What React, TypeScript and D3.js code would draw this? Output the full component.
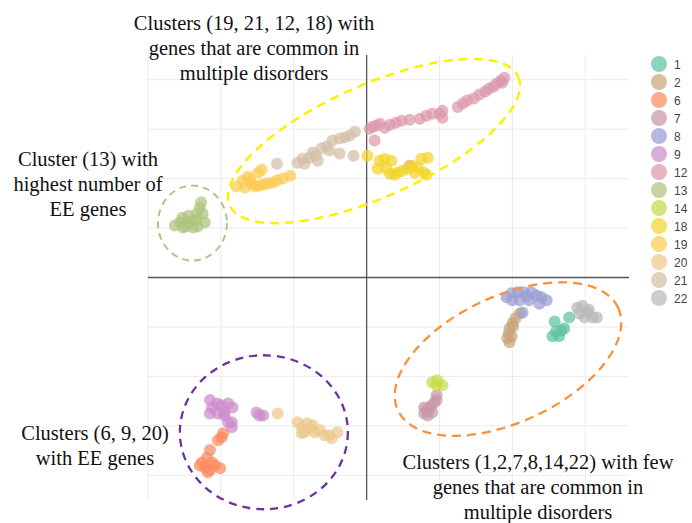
import * as d3 from "d3";
import { useEffect, useRef } from "react";

// cluster ids and colours (legend order)
const clusterIds = ["1", "2", "6", "7", "8", "9", "12", "13", "14", "18", "19", "20", "21", "22"];
const clusterColors = [
  "#5ec4a0", "#c9a47a", "#fb8a60", "#c898a8", "#9a9ed2", "#cc8ccc", "#dc98aa",
  "#b0c480", "#c4dc48", "#f2d42a", "#fbcc52", "#edc88e", "#d4bfa6", "#b8b8b8",
];

// point coordinates per cluster [x, y]
const c1 = [[2.58, -0.89], [2.78, -0.81], [2.6, -1.09], [2.67, -1.07], [2.71, -1.03], [2.55, -1.19], [2.64, -1.19]];
const c2 = [[2.1, -0.73], [2.04, -0.83], [2.0, -0.93], [1.96, -1.03], [1.95, -1.13], [1.93, -1.23], [1.96, -1.31], [1.99, -1.19], [2.01, -0.99]];
const c6 = [[-1.97, -3.15], [-2.04, -3.29], [-2.15, -3.49], [-2.19, -3.64], [-2.26, -3.74], [-2.22, -3.84], [-2.15, -3.9], [-2.08, -3.8], [-2.01, -3.86], [-2.12, -3.74], [-2.18, -3.94], [-2.29, -3.8], [-1.99, -3.23]];
const c7 = [[0.96, -2.38], [0.93, -2.53], [0.89, -2.59], [0.86, -2.65], [0.82, -2.69], [0.79, -2.63], [0.79, -2.75], [0.84, -2.79], [0.9, -2.73], [0.96, -2.48]];
const c8 = [[1.92, -0.4], [1.99, -0.32], [2.07, -0.3], [2.16, -0.3], [2.26, -0.3], [2.33, -0.36], [2.4, -0.4], [2.47, -0.46], [2.1, -0.46], [2.23, -0.46], [2.37, -0.53], [2.14, -0.71], [2.0, -0.46], [2.19, -0.38]];
const c9 = [[-2.15, -2.48], [-2.12, -2.63], [-2.15, -2.75], [-2.05, -2.55], [-1.99, -2.59], [-1.9, -2.55], [-1.84, -2.63], [-2.04, -2.75], [-1.95, -2.79], [-1.9, -2.93], [-1.85, -3.03], [-1.95, -2.73], [-1.51, -2.73], [-1.47, -2.79], [-1.42, -2.79], [-1.85, -2.93]];
const c12 = [[0.04, 3.01], [0.11, 2.77], [0.18, 3.11], [0.25, 3.03], [0.32, 3.09], [0.4, 3.13], [0.48, 3.17], [0.59, 3.19], [0.73, 3.21], [0.82, 3.27], [0.9, 3.31], [1.0, 3.31], [1.04, 3.37], [1.04, 3.23], [1.25, 3.45], [1.32, 3.52], [1.38, 3.58], [1.47, 3.62], [1.55, 3.7], [1.63, 3.76], [1.68, 3.82], [1.74, 3.86], [1.78, 3.92], [1.84, 3.98], [1.89, 4.04], [0.08, 3.05], [0.59, 2.26], [0.13, 3.07], [1.86, 3.94]];
const c13 = [[-2.63, 1.05], [-2.56, 1.11], [-2.52, 1.01], [-2.45, 1.11], [-2.53, 1.21], [-2.44, 1.25], [-2.38, 1.15], [-2.33, 1.29], [-2.29, 1.41], [-2.27, 1.52], [-2.25, 1.29], [-2.22, 1.11], [-2.32, 1.03], [-2.38, 1.01], [-2.48, 1.03], [-2.34, 1.17]];
const c14 = [[0.9, -2.12], [0.97, -2.08], [1.04, -2.18], [0.96, -2.18]];
const c18 = [[0.01, 2.46], [0.18, 2.36], [0.25, 2.4], [0.34, 2.36], [0.15, 2.2], [0.27, 2.2], [0.32, 2.1], [0.42, 2.12], [0.49, 2.16], [0.63, 2.26], [0.7, 2.22], [0.75, 2.4], [0.84, 2.42], [0.66, 2.12], [0.79, 2.12], [0.82, 2.08], [0.38, 2.08], [0.56, 2.2]];
const c19 = [[-1.79, 1.84], [-1.7, 1.96], [-1.63, 2.04], [-1.58, 1.9], [-1.49, 2.12], [-1.44, 2.18], [-1.47, 1.86], [-1.36, 1.9], [-1.29, 1.92], [-1.23, 1.96], [-1.15, 2.0], [-1.05, 2.06], [-1.67, 1.82], [-1.53, 1.84], [-1.6, 1.98], [-1.41, 1.88]];
const c20 = [[-1.22, -2.75], [-0.95, -2.93], [-0.89, -3.03], [-0.82, -2.95], [-0.78, -3.05], [-0.85, -3.13], [-0.71, -3.13], [-0.64, -3.09], [-0.58, -3.19], [-0.51, -3.19], [-0.48, -3.25], [-0.4, -3.13], [-0.74, -2.99], [-0.89, -3.15]];
const c21 = [[-1.23, 2.3], [-0.95, 2.32], [-0.88, 2.4], [-0.79, 2.42], [-0.74, 2.53], [-0.7, 2.46], [-0.62, 2.61], [-0.55, 2.65], [-0.51, 2.57], [-0.47, 2.77], [-0.37, 2.81], [-0.3, 2.83], [-0.23, 2.87], [-0.16, 2.95], [-0.37, 2.51], [-0.18, 2.46], [-0.85, 2.3], [-0.67, 2.36]];
const c22 = [[2.89, -0.61], [2.96, -0.57], [2.92, -0.73], [3.03, -0.71], [3.1, -0.81], [3.16, -0.81], [2.99, -0.81], [3.05, -0.65]];
const clusterPoints = [c1, c2, c6, c7, c8, c9, c12, c13, c14, c18, c19, c20, c21, c22];

const xTicks = [-3, -2, -1, 0, 1, 2, 3];
const yTicks = [-4, -3, -2, -1, 0, 1, 2, 3, 4];

// annotation texts
const topNote = ["Clusters (19, 21, 12, 18) with", "genes that are common in", "multiple disorders"];
const leftNote = ["Cluster (13) with", "highest number of", "EE genes"];
const bottomLeftNote = ["Clusters (6, 9, 20)", "with EE genes"];
const bottomRightNote = ["Clusters (1,2,7,8,14,22) with few", "genes that are common in", "multiple disorders"];

export default function App() {
  const ref = useRef<SVGSVGElement>(null);
  const svgWidth = 692,
    svgHeight = 523;

  useEffect(() => {
    const svg = d3.select(ref.current);
    svg.selectAll("*").remove();

    const x = d3.scaleLinear().domain([-3, 3.6]).range([148, 629]);
    const y = d3.scaleLinear().domain([-4.5, 4.5]).range([500, 55]);

    // grid
    const grid = svg.append("g");
    grid
      .selectAll("line.v")
      .data(xTicks.filter((t) => t !== 0))
      .join("line")
      .attr("x1", (d) => x(d))
      .attr("x2", (d) => x(d))
      .attr("y1", y(4.5))
      .attr("y2", y(-4.5))
      .attr("stroke", "#ebebeb")
      .attr("stroke-width", 1);
    grid
      .selectAll("line.h")
      .data(yTicks.filter((t) => t !== 0))
      .join("line")
      .attr("x1", x(-3))
      .attr("x2", x(3.6))
      .attr("y1", (d) => y(d))
      .attr("y2", (d) => y(d))
      .attr("stroke", "#ebebeb")
      .attr("stroke-width", 1);

    // zero lines
    svg
      .append("line")
      .attr("x1", x(-3))
      .attr("x2", x(3.6))
      .attr("y1", y(0))
      .attr("y2", y(0))
      .attr("stroke", "#555")
      .attr("stroke-width", 1.3);
    svg
      .append("line")
      .attr("x1", x(0))
      .attr("x2", x(0))
      .attr("y1", y(4.5))
      .attr("y2", y(-4.5))
      .attr("stroke", "#555")
      .attr("stroke-width", 1.3);

    // points
    const pts = svg.append("g");
    clusterPoints.forEach((list, i) => {
      pts
        .append("g")
        .selectAll("circle")
        .data(list)
        .join("circle")
        .attr("cx", (d) => x(d[0]))
        .attr("cy", (d) => y(d[1]))
        .attr("r", 6)
        .attr("fill", clusterColors[i])
        .attr("fill-opacity", 0.72);
    });

    // dashed ellipses
    const rings = [
      { cx: 0.1, cy: 2.76, rx: 158, ry: 56, rot: -24, color: "#fff000", w: 2.5, dash: "9,6" },
      { cx: -2.39, cy: 1.1, rx: 34.5, ry: 37.5, rot: 0, color: "#a9c98b", w: 2, dash: "7,5" },
      { cx: -1.41, cy: -3.13, rx: 84, ry: 77, rot: 0, color: "#7030a0", w: 2.3, dash: "8,6" },
      { cx: 1.94, cy: -1.65, rx: 121.5, ry: 63, rot: -25, color: "#f7923a", w: 2.3, dash: "9,6" },
    ];
    svg
      .append("g")
      .selectAll("ellipse")
      .data(rings)
      .join("ellipse")
      .attr("transform", (d) => `translate(${x(d.cx)},${y(d.cy)}) rotate(${d.rot})`)
      .attr("rx", (d) => d.rx)
      .attr("ry", (d) => d.ry)
      .attr("fill", "none")
      .attr("stroke", (d) => d.color)
      .attr("stroke-width", (d) => d.w)
      .attr("stroke-dasharray", (d) => d.dash);

    // legend
    const legend = svg.append("g").attr("transform", "translate(659,64)");
    const item = legend
      .selectAll("g")
      .data(clusterIds)
      .join("g")
      .attr("transform", (d, i) => `translate(0,${i * 18})`);
    item
      .append("circle")
      .attr("r", 8)
      .attr("fill", (d, i) => clusterColors[i])
      .attr("fill-opacity", 0.72);
    item
      .append("text")
      .attr("x", 15)
      .attr("y", 4.5)
      .attr("font-family", "Liberation Sans, Arial, sans-serif")
      .attr("font-size", 12)
      .attr("fill", "#444")
      .text((d) => d);

    // notes
    const note = (lines: string[], cx: number, y0: number) => {
      svg
        .append("g")
        .selectAll("text")
        .data(lines)
        .join("text")
        .attr("x", cx)
        .attr("y", (d, i) => y0 + i * 25)
        .attr("text-anchor", "middle")
        .attr("font-family", "Liberation Serif, Times New Roman, serif")
        .attr("font-size", 20.5)
        .attr("fill", "#111")
        .text((d) => d);
    };
    note(topNote, 254, 30);
    note(leftNote, 88, 166);
    note(bottomLeftNote, 95, 440);
    note(bottomRightNote, 538, 469);
  }, []);

  return (
    <svg
      ref={ref}
      width={svgWidth}
      height={svgHeight}
      style={{ position: "absolute", left: 0, top: 0, background: "#fff" }}
    ></svg>
  );
}
